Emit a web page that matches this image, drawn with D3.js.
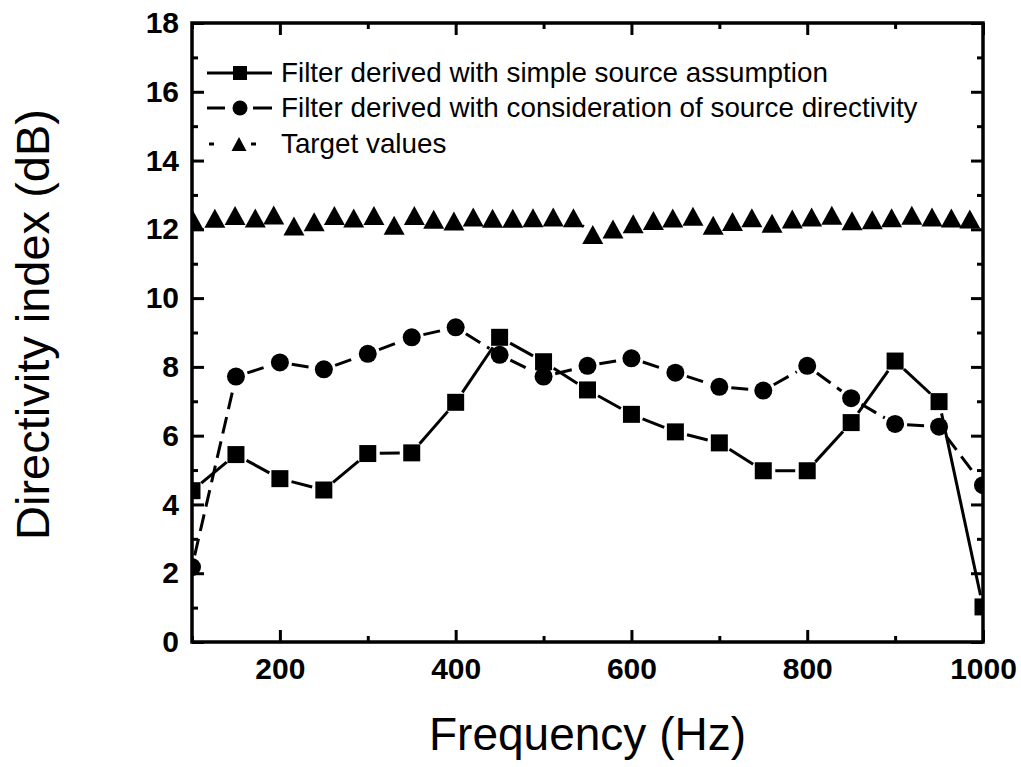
<!DOCTYPE html>
<html>
<head>
<meta charset="utf-8">
<script src="https://cdnjs.cloudflare.com/ajax/libs/d3/7.8.5/d3.min.js"></script>
<style>
  html, body { margin: 0; padding: 0; background: #fff; }
  svg { display: block; }
</style>
</head>
<body>
<svg id="chart" width="1021" height="767"></svg>
<script>
// ---- data ----
const freqs = [100,150,200,250,300,350,400,450,500,550,600,650,700,750,800,850,900,950,1000];
const simpleSource = [4.40,5.45,4.75,4.42,5.48,5.50,6.97,8.86,8.15,7.33,6.62,6.11,5.79,4.98,4.98,6.38,8.17,6.99,1.02];
const withDirectivity = [2.18,7.72,8.13,7.93,8.38,8.86,9.15,8.35,7.72,8.03,8.25,7.83,7.42,7.31,8.03,7.09,6.34,6.26,4.56];
const targetFreqs = [101,126,149,172,193,216,239,262,284,307,330,353,375,398,420,442,465,488,511,534,556,579,602,625,647,670,693,715,737,760,783,805,828,851,874,896,919,942,964,985];
const targetValues = [12.28,12.32,12.40,12.33,12.42,12.10,12.22,12.40,12.33,12.40,12.12,12.40,12.29,12.24,12.36,12.32,12.32,12.34,12.36,12.34,11.85,12.01,12.16,12.26,12.33,12.38,12.12,12.23,12.34,12.18,12.30,12.36,12.41,12.25,12.28,12.34,12.41,12.36,12.33,12.30];
const xMajorTicks = [200,400,600,800,1000];
const xMinorTicks = [100,300,500,700,900];
const yMajorTicks = [0,2,4,6,8,10,12,14,16,18];
const yMinorTicks = [1,3,5,7,9,11,13,15,17];
const legendLabels = [
  "Filter derived with simple source assumption",
  "Filter derived with consideration of source directivity",
  "Target values"
];
const xTitle = "Frequency (Hz)";
const yTitle = "Directivity index (dB)";

// ---- layout ----
const L = 192, R = 983, T = 23, B = 642;
const svg = d3.select("#chart");
const x = d3.scaleLinear().domain([100, 1000]).range([L, R]);
const y = d3.scaleLinear().domain([0, 18]).range([B, T]);
const FONT = "'Liberation Sans', Arial, Helvetica, sans-serif";

svg.append("defs").append("clipPath").attr("id", "plotclip")
  .append("rect").attr("x", L).attr("y", T).attr("width", R - L).attr("height", B - T);

const plot = svg.append("g").attr("clip-path", "url(#plotclip)");

function triPath(w, h) {
  return `M0,${-h/2}L${w/2},${h/2}L${-w/2},${h/2}Z`;
}

const sqData = freqs.map((f, i) => [f, simpleSource[i]]);
const ciData = freqs.map((f, i) => [f, withDirectivity[i]]);
const trData = targetFreqs.map((f, i) => [f, targetValues[i]]);

// connecting lines with a gap around each symbol (as in the original plot)
function gappedSegments(data, gap) {
  const pts = data.map(d => [x(d[0]), y(d[1])]);
  const segs = [];
  for (let i = 0; i < pts.length - 1; i++) {
    const [x0, y0] = pts[i], [x1, y1] = pts[i + 1];
    const len = Math.hypot(x1 - x0, y1 - y0);
    if (len <= 2 * gap + 1) continue;
    const ux = (x1 - x0) / len, uy = (y1 - y0) / len;
    segs.push([[x0 + ux * gap, y0 + uy * gap], [x1 - ux * gap, y1 - uy * gap]]);
  }
  return segs;
}
const segLine = d3.line();

function drawSeries(data, gap, dash) {
  plot.append("g").selectAll("path").data(gappedSegments(data, gap)).join("path")
    .attr("d", segLine).attr("fill", "none").attr("stroke", "#000")
    .attr("stroke-width", 3).attr("stroke-dasharray", dash);
}
drawSeries(trData, 12, "5,5");
drawSeries(ciData, 12, "17,8");
drawSeries(sqData, 12, null);

// markers
plot.selectAll(".tri").data(trData).join("path").attr("class", "tri")
  .attr("d", triPath(21, 19))
  .attr("transform", d => `translate(${x(d[0])},${y(d[1])})`).attr("fill", "#000");
plot.selectAll(".ci").data(ciData).join("circle").attr("class", "ci")
  .attr("cx", d => x(d[0])).attr("cy", d => y(d[1])).attr("r", 9).attr("fill", "#000");
plot.selectAll(".sq").data(sqData).join("path").attr("class", "sq")
  .attr("d", d3.symbol(d3.symbolSquare, 17 * 17)())
  .attr("transform", d => `translate(${x(d[0])},${y(d[1])})`).attr("fill", "#000");

// ---- axes ----
const axG = svg.append("g");
const major = 12, minor = 6;
function styleTicks(g) {
  g.select(".domain").remove();
  g.selectAll("line").attr("stroke-width", 3);
}
axG.append("g").attr("transform", `translate(0,${B})`)
  .call(d3.axisBottom(x).tickValues(xMajorTicks).tickSize(-major).tickFormat(d3.format("d")).tickPadding(16))
  .call(styleTicks)
  .call(g => g.selectAll("text").attr("font-family", FONT).attr("font-weight", "bold").attr("font-size", 30).attr("fill", "#000"));
axG.append("g").attr("transform", `translate(0,${B})`)
  .call(d3.axisBottom(x).tickValues(xMinorTicks).tickSize(-minor).tickFormat("")).call(styleTicks);
axG.append("g").attr("transform", `translate(0,${T})`)
  .call(d3.axisTop(x).tickValues(xMajorTicks).tickSize(-major).tickFormat("")).call(styleTicks);
axG.append("g").attr("transform", `translate(0,${T})`)
  .call(d3.axisTop(x).tickValues(xMinorTicks).tickSize(-minor).tickFormat("")).call(styleTicks);
axG.append("g").attr("transform", `translate(${L},0)`)
  .call(d3.axisLeft(y).tickValues(yMajorTicks).tickSize(-major).tickFormat(d3.format("d")).tickPadding(13))
  .call(styleTicks)
  .call(g => g.selectAll("text").attr("font-family", FONT).attr("font-weight", "bold").attr("font-size", 30).attr("fill", "#000"));
axG.append("g").attr("transform", `translate(${L},0)`)
  .call(d3.axisLeft(y).tickValues(yMinorTicks).tickSize(-minor).tickFormat("")).call(styleTicks);
axG.append("g").attr("transform", `translate(${R},0)`)
  .call(d3.axisRight(y).tickValues(yMajorTicks).tickSize(-major).tickFormat("")).call(styleTicks);
axG.append("g").attr("transform", `translate(${R},0)`)
  .call(d3.axisRight(y).tickValues(yMinorTicks).tickSize(-minor).tickFormat("")).call(styleTicks);
axG.append("rect").attr("x", L).attr("y", T).attr("width", R - L).attr("height", B - T)
  .attr("fill", "none").attr("stroke", "#000").attr("stroke-width", 3.5);

// ---- titles ----
svg.append("text").attr("x", (L + R) / 2).attr("y", 750).attr("text-anchor", "middle")
  .attr("font-family", FONT).attr("font-size", 46).attr("fill", "#000").text(xTitle);
svg.append("text").attr("transform", `translate(49,${(T + B) / 2 - 8}) rotate(-90)`).attr("text-anchor", "middle")
  .attr("font-family", FONT).attr("font-size", 47).attr("fill", "#000").text(yTitle);

// ---- legend ----
const leg = svg.append("g");
const rows = [73, 108, 144];
const lx0 = 207, lx1 = 272, lm = 240;
leg.append("line").attr("x1", lx0).attr("x2", lx1).attr("y1", rows[0]).attr("y2", rows[0]).attr("stroke", "#000").attr("stroke-width", 3);
leg.append("path").attr("d", d3.symbol(d3.symbolSquare, 14 * 14)()).attr("transform", `translate(${lm},${rows[0]})`);
leg.append("line").attr("x1", lx0).attr("x2", 225).attr("y1", rows[1]).attr("y2", rows[1]).attr("stroke", "#000").attr("stroke-width", 3);
leg.append("line").attr("x1", 253).attr("x2", lx1).attr("y1", rows[1]).attr("y2", rows[1]).attr("stroke", "#000").attr("stroke-width", 3);
leg.append("circle").attr("cx", lm).attr("cy", rows[1]).attr("r", 7.5);
leg.append("line").attr("x1", 209).attr("x2", 214).attr("y1", rows[2]).attr("y2", rows[2]).attr("stroke", "#000").attr("stroke-width", 3);
leg.append("line").attr("x1", 251).attr("x2", 256).attr("y1", rows[2]).attr("y2", rows[2]).attr("stroke", "#000").attr("stroke-width", 3);
leg.append("path").attr("d", triPath(15, 14)).attr("transform", `translate(${lm - 1},${rows[2]})`);
leg.selectAll(".lt").data(legendLabels).join("text").attr("class", "lt")
  .attr("x", 281).attr("y", (d, i) => rows[i] + 9)
  .attr("font-family", FONT).attr("font-size", 27.8).attr("fill", "#000").text(d => d);
</script>
</body>
</html>
